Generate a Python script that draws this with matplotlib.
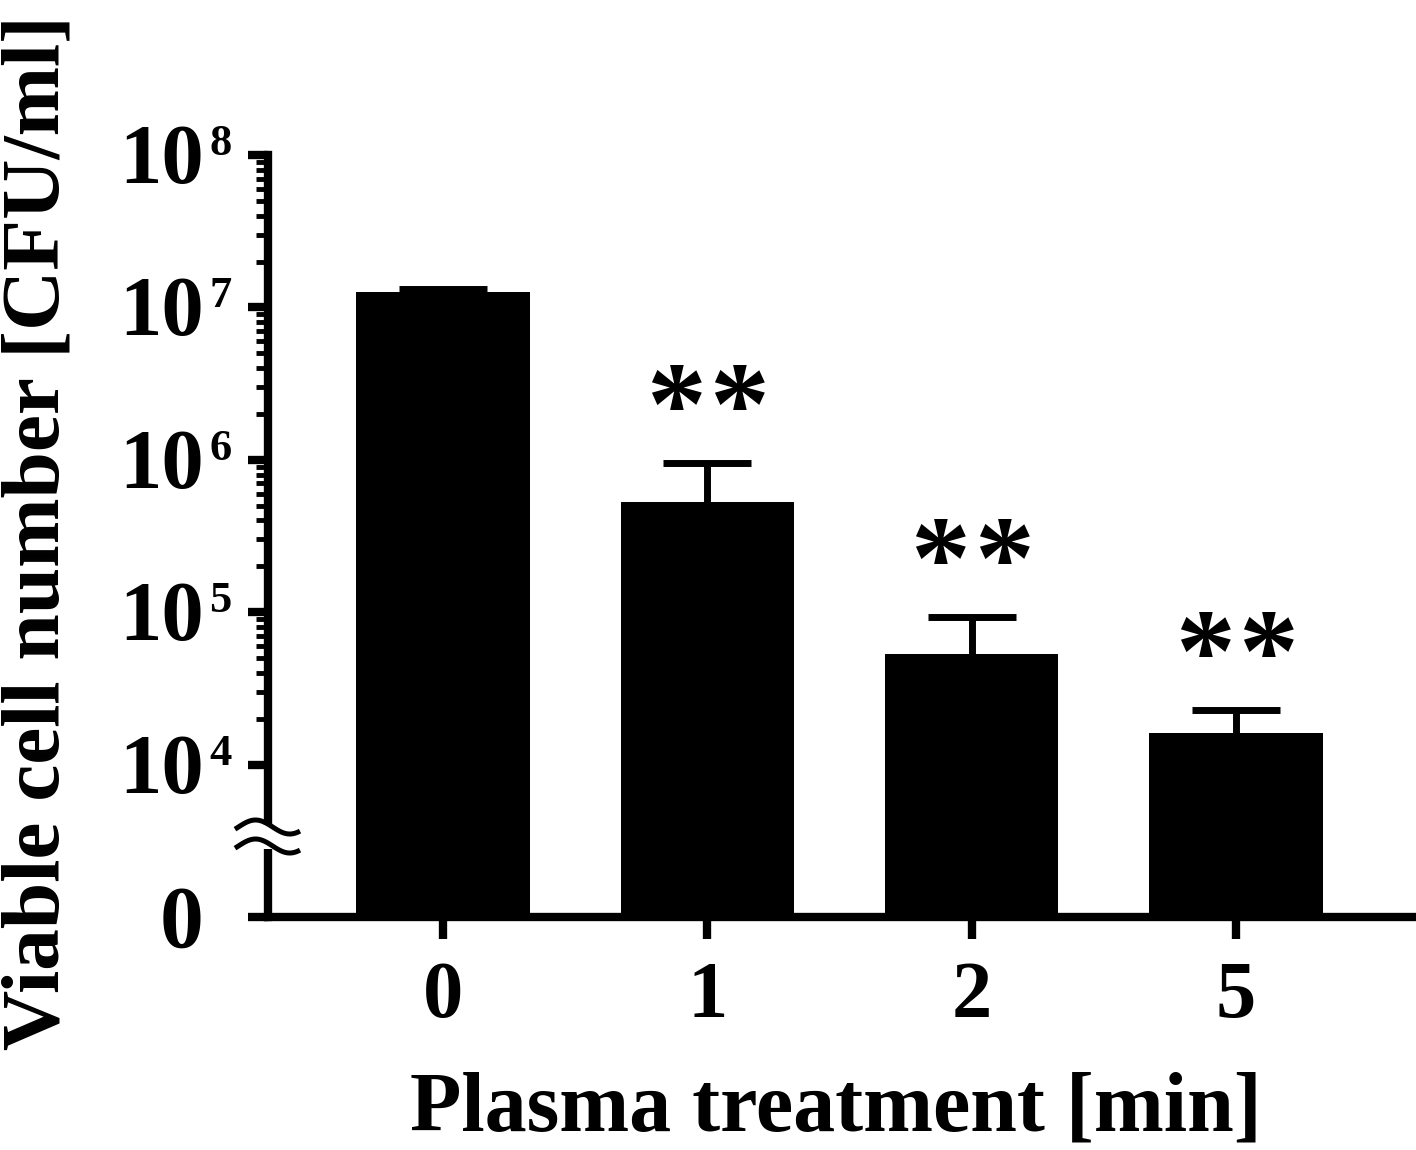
import matplotlib
matplotlib.use('Agg')

import numpy as np
import matplotlib.pyplot as plt
from matplotlib.ticker import FixedLocator, NullFormatter

plt.rcParams['font.family'] = ['Liberation Serif', 'DejaVu Serif']
plt.rcParams['font.weight'] = 'bold'

# data
times = ['0', '1', '2', '5']
means = [1.26e7, 5.3e5, 5.35e4, 1.62e4]
err_tops = [1.33e7, 9.6e5, 9.3e4, 2.27e4]
signif = ['', '**', '**', '**']
decades = [4, 5, 6, 7, 8]

W, H = 1416, 1150


def fwd(v):
    # log above 1e4, linear 0..1e4 squeezed into one decade below (broken axis)
    v = np.asarray(v, dtype=float)
    return np.where(v >= 1e4, np.log10(np.maximum(v, 1e4)), 3 + v / 1e4)


def inv(s):
    s = np.asarray(s, dtype=float)
    return np.where(s >= 4, 10 ** np.maximum(s, 4), (s - 3) * 1e4)


def px(x, y):
    return x / W, 1 - y / H


fig = plt.figure(figsize=(W / 100, H / 100), dpi=100)
ax = fig.add_axes([267.5 / W, 1 - 917 / H, (W - 267.5) / W, (917 - 155) / H])
ax.set_yscale('function', functions=(fwd, inv))
ax.set_ylim(0, 1e8)
ax.set_xlim(-0.664, 3.681)

x = np.arange(len(times))
ax.bar(x, means, width=0.655, color='black', zorder=2)

up = np.array(err_tops) - np.array(means)
eb = ax.errorbar(x, means, yerr=[np.zeros(len(x)), up], fmt='none', ecolor='black',
                 elinewidth=5, capsize=31.7, capthick=5, zorder=1)
eb[1][0].set_visible(False)  # hide the lower caps

for i, s in enumerate(signif):
    if not s:
        continue
    for dx in (-0.119, 0.121):
        ax.annotate('*', xy=(x[i] + dx, err_tops[i]), xytext=(0, 19),
                    textcoords='offset pixels', ha='center', va='baseline',
                    fontsize=86, fontweight='bold')

# spines and ticks
for side in ('top', 'right'):
    ax.spines[side].set_visible(False)
for side in ('left', 'bottom'):
    ax.spines[side].set_linewidth(6)

ax.set_yticks([0] + [10.0 ** k for k in decades])
ax.set_yticklabels([])
ax.yaxis.set_minor_locator(FixedLocator([m * 10.0 ** k for k in range(4, 8) for m in range(2, 10)]))
ax.yaxis.set_minor_formatter(NullFormatter())
ax.tick_params(axis='y', which='major', length=14.4, width=6, direction='out')
ax.tick_params(axis='y', which='minor', length=8.3, width=3.5, direction='out')

ax.set_xticks(x)
ax.set_xticklabels(times, fontsize=58, fontweight='bold')
ax.tick_params(axis='x', which='major', length=16, width=6, direction='out', pad=16)

# y tick labels: "10" with a small superscript exponent
for k in decades:
    ax.annotate('10', xy=(0, 10.0 ** k), xycoords=('axes fraction', 'data'),
                xytext=(-64, -28), textcoords='offset pixels', ha='right', va='baseline',
                fontsize=61, fontweight='bold')
    ax.annotate(str(k), xy=(0, 10.0 ** k), xycoords=('axes fraction', 'data'),
                xytext=(-58, 0), textcoords='offset pixels', ha='left', va='baseline',
                fontsize=32, fontweight='bold')
ax.annotate('0', xy=(0, 0), xycoords=('axes fraction', 'data'),
            xytext=(-64, -30), textcoords='offset pixels', ha='right', va='baseline',
            fontsize=63, fontweight='bold')

# axis break mark
fig.patches.append(plt.Rectangle(px(260, 849), 16 / W, 24 / H, transform=fig.transFigure,
                                 facecolor='white', edgecolor='none', zorder=5))
t = np.linspace(0, 1, 60)
for yc in (827, 846):
    xs = 235 + 65 * t
    ys = yc - 7 * np.sin(2 * np.pi * (t * 0.95 - 0.05))
    fx, fy = px(xs, ys)
    fig.add_artist(plt.Line2D(fx, fy, transform=fig.transFigure, color='black',
                              lw=3.6, solid_capstyle='butt', zorder=6))

# axis titles
fx, fy = px(836, 1130)
fig.text(fx, fy, 'Plasma treatment [min]', fontsize=60.5, fontweight='bold',
         ha='center', va='baseline')
fx, fy = px(58, 1050)
fig.text(fx, fy, 'Viable cell number [CFU/ml]', fontsize=60, fontweight='bold',
         rotation=90, rotation_mode='anchor', ha='left', va='baseline')

fig.savefig('out.png', dpi=100)
plt.close(fig)
